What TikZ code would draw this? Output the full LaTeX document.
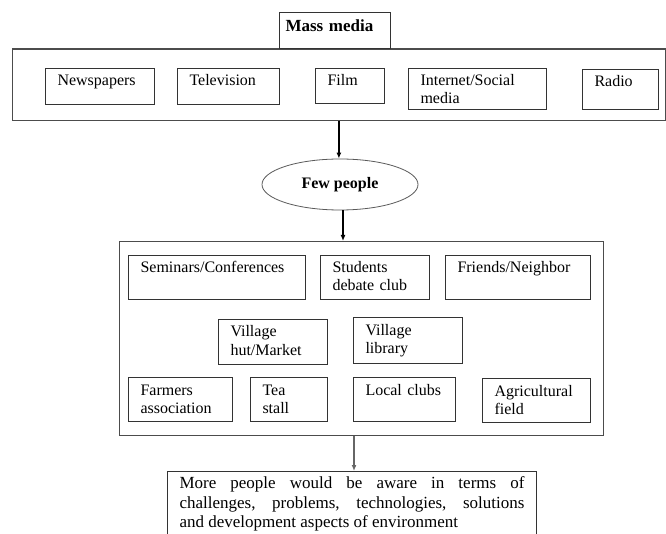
\documentclass[tikz,border=0pt]{standalone}
\usepackage{fontspec}
\setmainfont{Liberation Serif}
\usetikzlibrary{shapes.geometric,arrows.meta,positioning}

\begin{document}
\begin{tikzpicture}[x=1pt, y=-1pt, line width=1pt,
            item/.style={
            draw=black!80,
            rectangle,
            anchor=north west,
            align=left,
            inner xsep=12pt,
            inner ysep=5.5pt,
            text height=12pt,
            font=\fontsize{16}{18}\selectfont},
            frame/.style={
            draw=black!70,
            rectangle,
            line width=1.3pt},
            arr/.style={
            -{Latex[length=6pt,width=5pt]},
            line width=1.2pt}]

           \useasboundingbox (0,0) rectangle (666,534);
           \clip (0,0) rectangle (666,534);

           % mass media block
           \node[frame, minimum width=653.5pt, minimum height=71.5pt, inner sep=0pt, anchor=north west] (media) at (11.5,48.5) {};
           \node[item, inner xsep=6pt, inner ysep=7pt, text width=99pt, text depth=10.5pt,
                 font=\fontsize{17}{20}\selectfont\bfseries] (title) at (279,12) {Mass media};
           \foreach \name/\xa/\ya/\xb/\yb/\txt in {news/45/68/154/104/Newspapers,
                      tv/177/68/279/104/Television,
                      film/315/68/384/103/Film,
                      net/408/68/546/109/{Internet/Social\\media},
                      radio/582/69/658/109/Radio}
           {
                      \pgfmathsetmacro{\tw}{\xb-\xa-24}
                      \pgfmathsetmacro{\td}{\yb-\ya-23}
                      \node[item, text width=\tw pt, text depth=\td pt] (\name) at (\xa,\ya) {\txt};
           }

           % few people
           \node[ellipse, draw=black!65, line width=0.8pt, minimum width=156pt, minimum height=51pt, inner sep=0pt,
                 font=\fontsize{16}{18}\selectfont\bfseries] (few) at (340,184.5) {Few people};

           % local channels
           \node[frame, minimum width=484pt, minimum height=194pt, inner sep=0pt, anchor=north west] (hub) at (119,241) {};
           \foreach \name/\xa/\ya/\xb/\yb/\txt in {sem/128/255/305/299/{Seminars/Conferences},
                      debate/320/255/429/299/{Students\\debate club},
                      friend/445/255/590/299/{Friends/Neighbor},
                      hut/218/319/327/364/{Village\\hut/Market},
                      lib/353/317/462/363/{Village\\library},
                      farm/128/377/232/421/{Farmers\\association},
                      tea/250/377/327/421/{Tea\\stall},
                      club/353/377/455/421/Local clubs,
                      agri/482/378/590/422/{Agricultural\\field}}
           {
                      \pgfmathsetmacro{\tw}{\xb-\xa-24}
                      \pgfmathsetmacro{\td}{\yb-\ya-23}
                      \node[item, text width=\tw pt, text depth=\td pt] (\name) at (\xa,\ya) {\txt};
           }

           % outcome
           \node[item, align=justify, inner ysep=5pt, text width=345pt, text depth=70pt,
                 font=\fontsize{17}{19.5}\selectfont] (result) at (167,471)
                 {More people would be aware in terms of\linebreak
                  challenges, problems, technologies, solutions\linebreak
                  and development aspects of environment};

           \draw[arr] (media.south) -- (media.south |- few.north);
           \draw[arr] ([xshift=3pt]few.south) -- ([xshift=3pt]few.south |- hub.north);
           \draw[arr, black!60] (result.north -| 354,0) coordinate (tip) (tip |- hub.south) -- (tip);
\end{tikzpicture}
\end{document}
